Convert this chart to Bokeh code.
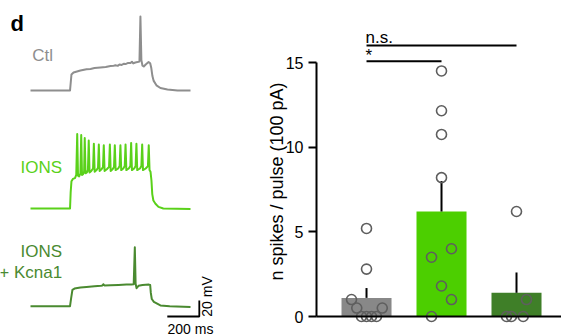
import math
from bokeh.plotting import figure
from bokeh.layouts import row
from bokeh.models import Range1d, FixedTicker, Span, LinearAxis
from bokeh.core.properties import value
from bokeh.embed import file_html
from bokeh.resources import INLINE

FONT = "Liberation Sans"

# ---------------- data: voltage traces (time ms, voltage re. baseline mV) ----
ctl_t = [0, 247, 256, 269, 312, 350, 375, 400, 437, 470, 500, 520, 531, 545, 556, 570,
         585, 594, 610, 625, 634, 642, 655, 669, 681, 687, 693, 700, 708, 720, 738, 748,
         755, 762, 770, 787, 812, 856, 919, 1000]
ctl_v = [0, 0, 20, 22.5, 25, 26.5, 27, 28, 28.8, 29.5, 30.6, 31, 31.5, 30.8, 32.5, 32,
         33.5, 33, 34.5, 34.4, 36, 33.8, 35, 35.5, 36.2, 92.5, 38, 31, 30, 32.5, 35.6, 34,
         28, 18, 12, 6.5, 3.1, 1.2, 0, 0]

ions_t = [0, 247, 251, 256, 265, 278, 286, 292, 297, 304, 312, 317, 322, 329, 335, 339,
          344, 352, 359, 364, 369, 380, 391, 396, 401, 413, 422, 427, 432, 444, 453, 458,
          463, 477, 491, 496, 501, 513, 522, 527, 532, 548, 557, 562, 567, 580, 589, 594,
          599, 614, 624, 629, 634, 648, 657, 662, 667, 684, 693, 698, 703, 720, 734, 739,
          744, 750, 756, 761, 768, 781, 800, 830, 1000]
ions_v = [0, 0, 20, 34, 37, 38, 42, 93, 41, 40, 44, 92, 42, 43, 46, 88,
          44, 45, 48, 85, 45, 47, 50, 81, 46, 48, 51, 80, 47, 49, 52, 79,
          47, 49, 52, 80, 47, 49, 52, 79, 48, 50, 53, 79, 48, 50, 53, 80,
          48, 50, 53, 82, 48, 50, 53, 81, 48, 50, 53, 80, 48, 50, 53, 79,
          48, 46, 35, 18, 10, 6, 2, 0, -0.5]

kcna_t = [0, 247, 254, 262, 275, 312, 350, 400, 440, 450, 455, 462, 500, 550, 600, 630,
          645, 652, 657, 663, 675, 700, 740, 748, 752, 758, 771, 812, 870, 1000]
kcna_v = [0, 0, 10, 20.4, 22, 23.4, 24, 25, 25.6, 25.9, 27.5, 26, 26.2, 26.5, 27, 27.2,
          27.5, 73.75, 28, 22.5, 25.5, 26.5, 27, 26.5, 16.6, 9, 5.4, 0.9, 0, -1]

scale_ms = 200
scale_mv = 20

# ---------------- data: bar chart ----------------
groups = ["Ctl", "IONS", "IONS + Kcna1"]
bar_means = [1.1, 6.2, 1.4]
bar_sems = [0.58, 1.8, 1.2]
ctl_pts = [5.2, 2.8, 1.0, 0.5, 0.5, 0, 0, 0, 0]
ctl_jit = [0, 0, -0.2, -0.13, 0.21, -0.067, 0, 0.067, 0.133]
ions_pts = [14.5, 12.15, 10.75, 8.2, 4.0, 3.5, 1.8, 1.0, 0]
ions_jit = [0, 0, 0, 0, 0.133, -0.133, 0, 0.133, -0.133]
kcna_pts = [6.2, 1.0, 0, 0, 0]
kcna_jit = [0, 0.133, -0.133, -0.067, 0.089]
y_ticks = [0, 5, 10, 15]
y_label = "n spikes / pulse (100 pA)"

GRAY_TR = "#8e8e8e"
GREEN_TR = "#5ad11a"
DKGREEN_TR = "#4a8a30"
BAR_COLORS = ["#888888", "#4ccf00", "#3f7f28"]

# ---------------- left panel: traces ----------------
left = figure(width=250, height=336, output_backend="svg", toolbar_location=None,
              x_axis_location=None, y_axis_location=None,
              x_range=Range1d(-187.5, 1375), y_range=Range1d(0, 420),
              min_border=0, min_border_left=0, min_border_right=0,
              min_border_top=0, min_border_bottom=0)
left.outline_line_color = None
left.xgrid.visible = False
left.ygrid.visible = False

offsets = [307.5, 160, 37.9]
for ts, vs, off, col in [(ctl_t, ctl_v, offsets[0], GRAY_TR),
                         (ions_t, ions_v, offsets[1], GREEN_TR),
                         (kcna_t, kcna_v, offsets[2], DKGREEN_TR)]:
    left.line(ts, [v + off for v in vs], line_color=col, line_width=2,
              line_join="round")

left.text(x=[-125], y=[391], text=["d"], text_font=value(FONT), text_font_size="22px",
          text_font_style="bold", text_color="black", text_align="left",
          text_baseline="alphabetic")
left.text(x=[10.6], y=[351], text=["Ctl"], text_font=value(FONT), text_font_size="17px",
          text_color=GRAY_TR, text_align="left", text_baseline="alphabetic")
left.text(x=[198], y=[211], text=["IONS"], text_font=value(FONT), text_font_size="17px",
          text_color=GREEN_TR, text_align="right", text_baseline="alphabetic")
left.text(x=[198, 198], y=[106.6, 79.6], text=["IONS", "+ Kcna1"], text_font=value(FONT),
          text_font_size="17px", text_color=DKGREEN_TR, text_align="right",
          text_baseline="alphabetic")

# scale bar
sb_t0, sb_v0 = 855, 25
left.line([sb_t0, sb_t0 + scale_ms, sb_t0 + scale_ms],
          [sb_v0, sb_v0, sb_v0 + scale_mv], line_color="black", line_width=1.8)
left.text(x=[sb_t0 + scale_ms / 2 + 45], y=[10], text=[f"{scale_ms} ms"],
          text_font=value(FONT), text_font_size="14px", text_color="black",
          text_align="center", text_baseline="alphabetic")
left.text(x=[1106], y=[sb_v0 + 25], text=[f"{scale_mv} mV"], angle=math.pi / 2,
          text_font=value(FONT), text_font_size="14px", text_color="black",
          text_align="center", text_baseline="middle")

# ---------------- right panel: bar chart ----------------
right = figure(width=311, height=336, output_backend="svg", toolbar_location=None,
               x_axis_location=None, y_axis_location=None,
               x_range=Range1d(-1.547, 2.6), y_range=Range1d(-1.181, 18.662),
               min_border_left=0, min_border_right=0, min_border_top=0,
               min_border_bottom=0)
right.outline_line_color = None
right.xgrid.visible = False
right.ygrid.visible = False

xs = list(range(len(groups)))
right.vbar(x=xs, top=bar_means, width=0.667, fill_color=BAR_COLORS, line_color=None)
right.segment(x0=xs, y0=bar_means, x1=xs, y1=[m + s for m, s in zip(bar_means, bar_sems)],
              line_color="black", line_width=2)

for i, (pts, jit) in enumerate([(ctl_pts, ctl_jit), (ions_pts, ions_jit),
                                (kcna_pts, kcna_jit)]):
    right.scatter([i + j for j in jit], pts, size=10, marker="circle",
                  fill_color=None, line_color="#5e5e5e", line_width=1.6)

# baseline (x axis line) from the y axis to the right edge
right.segment(x0=[-0.667], y0=[0], x1=[2.6], y1=[0], line_color="black", line_width=2)

# significance
right.line([0, 2], [16.0, 16.0], line_color="black", line_width=2)
right.line([0, 1], [15.08, 15.08], line_color="black", line_width=2)
right.text(x=[-0.013], y=[16.5], text=["n.s."], text_font=value(FONT),
           text_font_size="17px", text_color="black", text_align="left",
           text_baseline="alphabetic")
right.text(x=[-0.013], y=[15.4], text=["*"], text_font=value(FONT),
           text_font_size="17px", text_color="black", text_align="left",
           text_baseline="alphabetic")

ya = LinearAxis(fixed_location=-0.667)
ya.ticker = FixedTicker(ticks=y_ticks)
ya.bounds = (0, 15)
ya.axis_line_width = 2
ya.axis_line_color = "black"
ya.major_tick_line_width = 2
ya.major_tick_out = 8
ya.major_tick_in = 0
ya.minor_tick_line_color = None
ya.major_label_text_font = FONT
ya.major_label_text_font_size = "16px"
ya.major_label_text_color = "black"
ya.major_label_standoff = 5
right.add_layout(ya, "left")

# y-axis title
right.text(x=[-1.19], y=[7.97], text=[y_label], angle=math.pi / 2,
           text_font=value(FONT), text_font_size="18px", text_color="black",
           text_align="center", text_baseline="alphabetic")

layout = row(left, right)
open("out.html", "w").write(file_html(layout, INLINE))
